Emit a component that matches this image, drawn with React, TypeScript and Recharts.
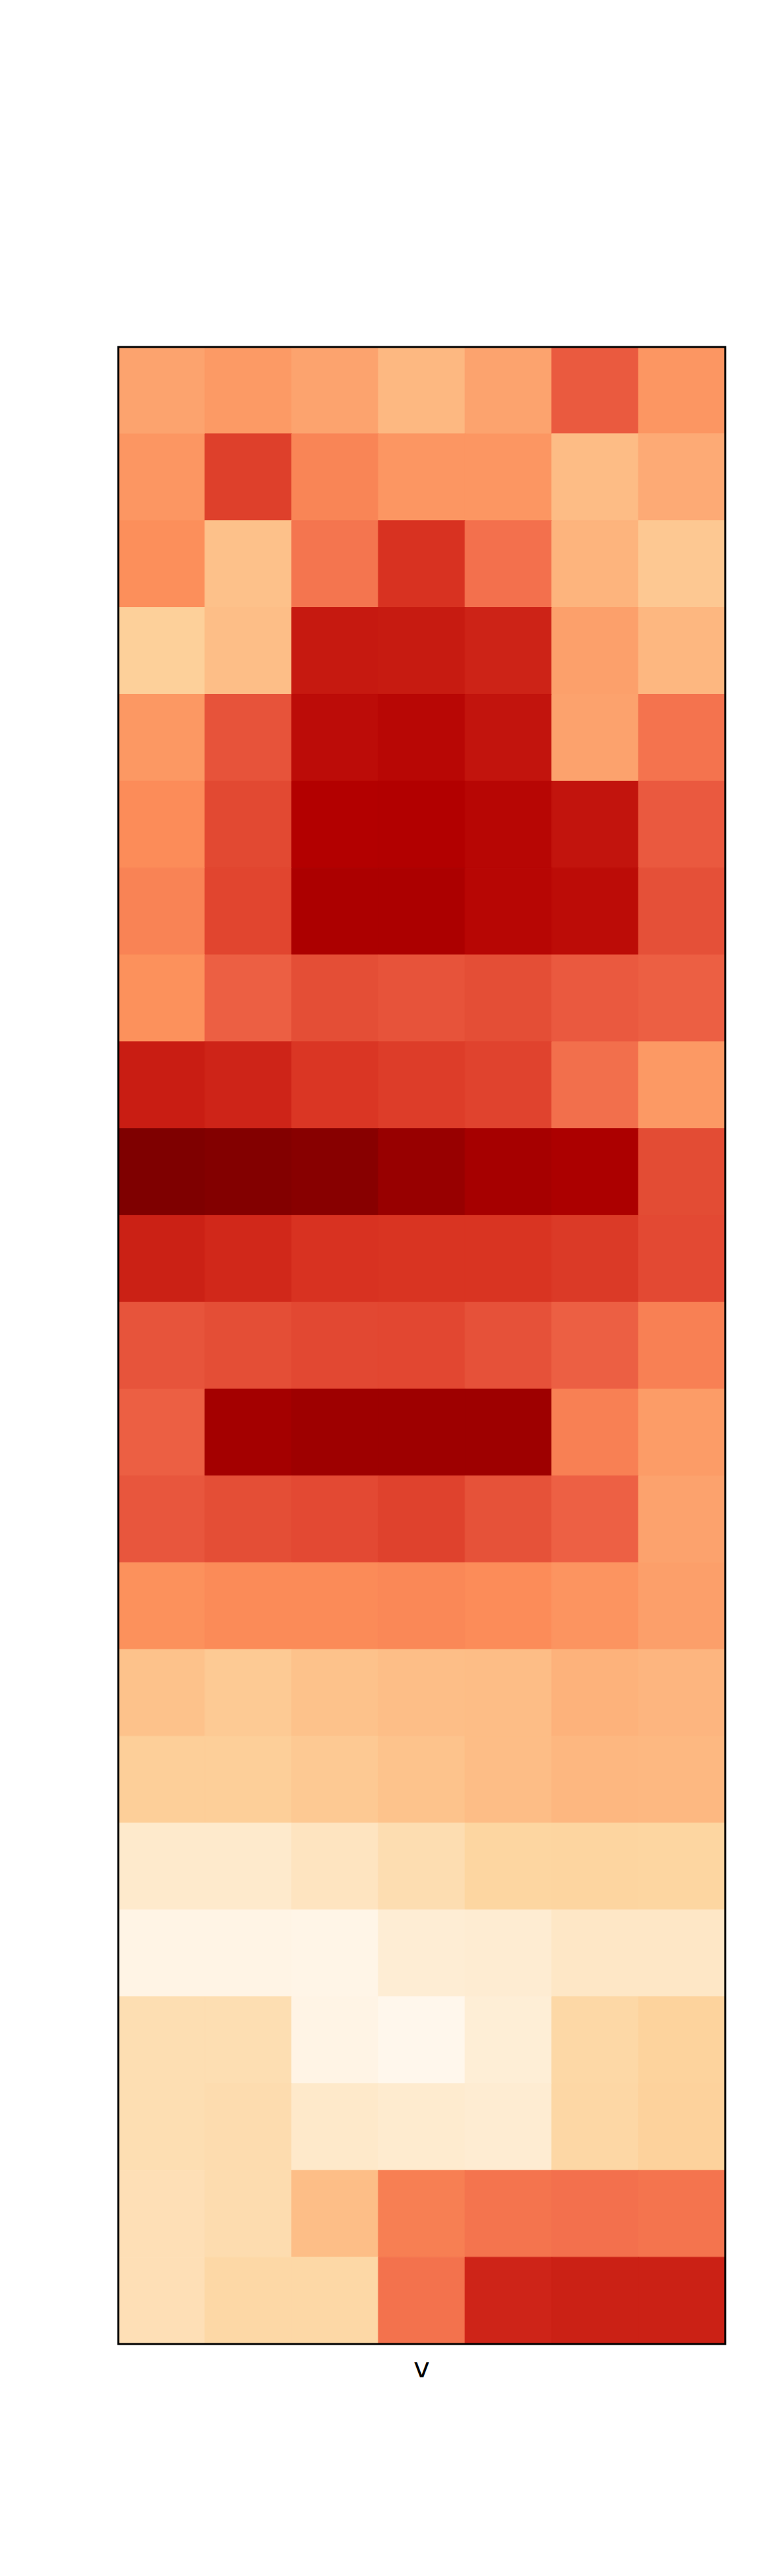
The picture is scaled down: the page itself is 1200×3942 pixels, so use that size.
import { BarChart, Bar, Cell, XAxis, YAxis, ReferenceArea } from 'recharts';

// columns of the heatmap (no tick labels shown)
const columns = ['c0', 'c1', 'c2', 'c3', 'c4', 'c5', 'c6'];

// values per row, top to bottom, scaled 0..1
const row00 = [0.44, 0.465, 0.44, 0.383, 0.44, 0.651, 0.475];
const row01 = [0.475, 0.712, 0.525, 0.475, 0.475, 0.37, 0.42];
const row02 = [0.495, 0.345, 0.575, 0.745, 0.59, 0.394, 0.31];
const row03 = [0.27, 0.36, 0.81, 0.805, 0.784, 0.449, 0.386];
const row04 = [0.47, 0.667, 0.844, 0.856, 0.823, 0.443, 0.58];
const row05 = [0.503, 0.691, 0.875, 0.877, 0.86, 0.823, 0.653];
const row06 = [0.53, 0.7, 0.892, 0.892, 0.86, 0.845, 0.675];
const row07 = [0.49, 0.64, 0.68, 0.667, 0.68, 0.653, 0.64];
const row08 = [0.8, 0.78, 0.736, 0.72, 0.705, 0.594, 0.467];
const row09 = [1.0, 0.99, 0.978, 0.94, 0.906, 0.892, 0.685];
const row10 = [0.79, 0.77, 0.745, 0.74, 0.74, 0.727, 0.69];
const row11 = [0.665, 0.68, 0.693, 0.695, 0.672, 0.64, 0.54];
const row12 = [0.64, 0.91, 0.925, 0.925, 0.925, 0.54, 0.46];
const row13 = [0.66, 0.68, 0.69, 0.707, 0.67, 0.637, 0.443];
const row14 = [0.49, 0.505, 0.505, 0.515, 0.503, 0.48, 0.45];
const row15 = [0.34, 0.3, 0.34, 0.36, 0.365, 0.4, 0.39];
const row16 = [0.275, 0.275, 0.305, 0.335, 0.365, 0.386, 0.384];
const row17 = [0.11, 0.11, 0.15, 0.194, 0.24, 0.245, 0.24];
const row18 = [0.025, 0.025, 0.017, 0.083, 0.09, 0.13, 0.13];
const row19 = [0.19, 0.19, 0.025, 0.0, 0.075, 0.225, 0.255];
const row20 = [0.19, 0.2, 0.117, 0.1, 0.09, 0.23, 0.26];
const row21 = [0.18, 0.2, 0.36, 0.544, 0.578, 0.59, 0.578];
const row22 = [0.18, 0.225, 0.225, 0.585, 0.78, 0.79, 0.79];

const rows = [
  row00, row01, row02, row03, row04, row05, row06, row07, row08, row09, row10, row11,
  row12, row13, row14, row15, row16, row17, row18, row19, row20, row21, row22,
];

// OrRd colormap anchors
const ORRD = [
  [255, 247, 236], [254, 232, 200], [253, 212, 158], [253, 187, 132], [252, 141, 89],
  [239, 101, 72], [215, 48, 31], [179, 0, 0], [127, 0, 0],
];

function orRd(v: number) {
  const t = Math.max(0, Math.min(1, v)) * (ORRD.length - 1);
  const i = Math.min(Math.floor(t), ORRD.length - 2);
  const f = t - i;
  const c = ORRD[i].map((a, k) => Math.round(a + (ORRD[i + 1][k] - a) * f));
  return `rgb(${c[0]},${c[1]},${c[2]})`;
}

const data = columns.map((name) => {
  const d: Record<string, string | number> = { name };
  rows.forEach((_, r) => (d[`r${r}`] = 1));
  return d;
});

export default function App() {
  return (
    <div style={{ position: 'absolute', left: 0, top: 0, background: '#fff' }}>
      <BarChart
        width={1200}
        height={3942}
        data={data}
        barCategoryGap={0}
        barGap={0}
        margin={{ top: 531, left: 181, right: 90, bottom: 295 }}
      >
        <XAxis
          dataKey="name"
          height={60}
          tick={false}
          tickLine={false}
          axisLine={false}
          label={{
            value: 'v',
            position: 'insideTop',
            offset: 21,
            style: { fontFamily: 'DejaVu Sans', fontSize: 42, fill: '#000' },
          }}
        />
        <YAxis type="number" domain={[0, rows.length]} reversed hide />
        {rows.map((row, r) => (
          <Bar key={r} dataKey={`r${r}`} stackId="a" isAnimationActive={false}>
            {row.map((v, j) => (
              <Cell key={j} fill={orRd(v)} stroke={orRd(v)} strokeWidth={1} />
            ))}
          </Bar>
        ))}
        {/* frame drawn above the cells */}
        <ReferenceArea
          y1={0}
          y2={rows.length}
          fill="none"
          fillOpacity={0}
          stroke="#000"
          strokeOpacity={1}
          strokeWidth={3}
          ifOverflow="visible"
          zIndex={1000}
        />
      </BarChart>
    </div>
  );
}
